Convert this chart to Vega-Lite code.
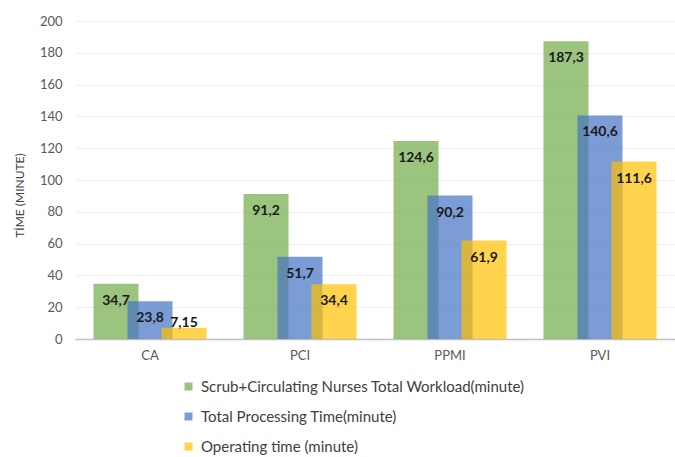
{
  "$schema": "https://vega.github.io/schema/vega-lite/v6.json",
  "width": 600,
  "height": 318,
  "autosize": {"type": "none"},
  "padding": {"left": 75, "top": 21, "right": 0, "bottom": 118},
  "config": {
    "font": "Lato",
    "view": {"stroke": null},
    "locale": {"number": {"decimal": ",", "thousands": ".", "grouping": [3], "currency": ["", ""]}}
  },
  "data": {
    "values": [
      {"procedure": "CA", "series": "Scrub+Circulating Nurses Total Workload(minute)", "value": 34.7},
      {"procedure": "CA", "series": "Total Processing Time(minute)", "value": 23.8},
      {"procedure": "CA", "series": "Operating time (minute)", "value": 7.15},
      {"procedure": "PCI", "series": "Scrub+Circulating Nurses Total Workload(minute)", "value": 91.2},
      {"procedure": "PCI", "series": "Total Processing Time(minute)", "value": 51.7},
      {"procedure": "PCI", "series": "Operating time (minute)", "value": 34.4},
      {"procedure": "PPMI", "series": "Scrub+Circulating Nurses Total Workload(minute)", "value": 124.6},
      {"procedure": "PPMI", "series": "Total Processing Time(minute)", "value": 90.2},
      {"procedure": "PPMI", "series": "Operating time (minute)", "value": 61.9},
      {"procedure": "PVI", "series": "Scrub+Circulating Nurses Total Workload(minute)", "value": 187.3},
      {"procedure": "PVI", "series": "Total Processing Time(minute)", "value": 140.6},
      {"procedure": "PVI", "series": "Operating time (minute)", "value": 111.6}
    ]
  },
  "encoding": {
    "x": {
      "field": "procedure",
      "type": "nominal",
      "sort": ["CA", "PCI", "PPMI", "PVI"],
      "scale": {"paddingInner": 0.32, "paddingOuter": 0.16},
      "axis": {
        "title": null,
        "labelAngle": 0,
        "labelColor": "#595959",
        "labelFontSize": 13,
        "labelPadding": 10,
        "ticks": false,
        "domainColor": "#bfbfbf",
        "domainWidth": 1.5
      }
    },
    "xOffset": {
      "field": "series",
      "type": "nominal",
      "sort": ["Scrub+Circulating Nurses Total Workload(minute)", "Total Processing Time(minute)", "Operating time (minute)"],
      "scale": {"paddingInner": 0, "paddingOuter": 0}
    },
    "y": {
      "field": "value",
      "type": "quantitative",
      "scale": {"domain": [0, 200]},
      "axis": {
        "values": [0, 20, 40, 60, 80, 100, 120, 140, 160, 180, 200],
        "title": "TİME (MINUTE)",
        "titleFontSize": 12,
        "titleFontWeight": "normal",
        "titleColor": "#404040",
        "titleAngle": -90,
        "titleX": -56,
        "titleY": 174,
        "titleAlign": "center",
        "titleBaseline": "middle",
        "labelColor": "#595959",
        "labelFontSize": 13,
        "labelPadding": 13,
        "ticks": false,
        "domain": false,
        "gridColor": "#efefef",
        "gridWidth": 1
      }
    }
  },
  "layer": [
    {
      "mark": {"type": "bar", "width": 45, "fillOpacity": 0.7},
      "encoding": {
        "color": {
          "field": "series",
          "type": "nominal",
          "sort": ["Scrub+Circulating Nurses Total Workload(minute)", "Total Processing Time(minute)", "Operating time (minute)"],
          "scale": {
            "domain": ["Scrub+Circulating Nurses Total Workload(minute)", "Total Processing Time(minute)", "Operating time (minute)"],
            "range": ["#70AD47", "#4472C4", "#FFC000"]
          },
          "legend": {
            "title": null,
            "orient": "none",
            "legendX": 106,
            "legendY": 358,
            "direction": "vertical",
            "symbolType": "square",
            "symbolSize": 64,
            "symbolOpacity": 0.7,
            "symbolStrokeWidth": 0,
            "labelFontSize": 15,
            "labelColor": "#404040",
            "labelOffset": 5,
            "rowPadding": 14,
            "padding": 0,
            "labelLimit": 500
          }
        }
      }
    },
    {
      "transform": [{"filter": "datum.value >= 15"}],
      "mark": {"type": "text", "baseline": "middle", "dy": 17, "fontWeight": "bold", "fontSize": 14, "color": "#1a1a1a"},
      "encoding": {
        "text": {"field": "value", "type": "quantitative", "format": "~f"}
      }
    },
    {
      "transform": [{"filter": "datum.value < 15"}],
      "mark": {"type": "text", "baseline": "bottom", "dy": 2, "fontWeight": "bold", "fontSize": 14, "color": "#1a1a1a"},
      "encoding": {
        "text": {"field": "value", "type": "quantitative", "format": "~f"}
      }
    }
  ]
}
